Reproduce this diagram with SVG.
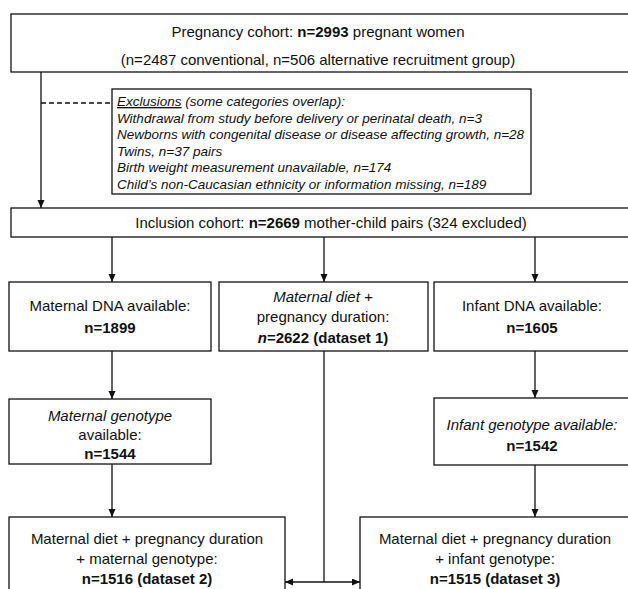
<svg xmlns="http://www.w3.org/2000/svg" width="628" height="589" viewBox="0 0 628 589">
<defs>
<marker id="ah" markerUnits="userSpaceOnUse" markerWidth="8" markerHeight="8" refX="8" refY="3.5" orient="auto-start-reverse"><path d="M0,0 L8,3.5 L0,7 z" fill="#111"/></marker>
<style>
.box{fill:#fff;stroke:#111;stroke-width:1.3}
.t{font-family:"Liberation Sans",Arial,sans-serif;font-size:15px;fill:#111;text-anchor:middle}
.ex{font-family:"Liberation Sans",Arial,sans-serif;font-size:13.5px;font-style:italic;fill:#111}
.b{font-weight:bold}
.i{font-style:italic}
.c{fill:none;stroke:#111;stroke-width:1.3}
</style>
</defs>
<rect width="628" height="589" fill="#fff"/>
<g id="connectors">
<line class="c" x1="41" y1="72" x2="41" y2="208" marker-end="url(#ah)"/>
<line class="c" x1="41" y1="103" x2="112" y2="103" stroke-dasharray="5,3"/>
<line class="c" x1="112" y1="237" x2="112" y2="282" marker-end="url(#ah)"/>
<line class="c" x1="324" y1="237" x2="324" y2="282" marker-end="url(#ah)"/>
<line class="c" x1="535" y1="237" x2="535" y2="282" marker-end="url(#ah)"/>
<line class="c" x1="112" y1="351" x2="112" y2="399" marker-end="url(#ah)"/>
<line class="c" x1="535" y1="351" x2="535" y2="398" marker-end="url(#ah)"/>
<line class="c" x1="112" y1="464" x2="112" y2="517" marker-end="url(#ah)"/>
<line class="c" x1="535" y1="465" x2="535" y2="517" marker-end="url(#ah)"/>
<line class="c" x1="324" y1="351" x2="324" y2="582"/>
<line class="c" x1="285" y1="582" x2="360" y2="582" marker-start="url(#ah)" marker-end="url(#ah)"/>
</g>
<g id="pregnancy-cohort">
<rect class="box" x="11" y="14" width="630" height="58"/>
<text class="t" x="318" y="37">Pregnancy cohort: <tspan class="b">n=2993</tspan> pregnant women</text>
<text class="t" x="318" y="65">(n=2487 conventional, n=506 alternative recruitment group)</text>
</g>
<g id="exclusions">
<rect class="box" x="112" y="89" width="419" height="105"/>
<text class="ex" x="117" y="106"><tspan text-decoration="underline">Exclusions</tspan> (some categories overlap):</text>
<text class="ex" x="117" y="122.5">Withdrawal from study before delivery or perinatal death, n=3</text>
<text class="ex" x="117" y="139">Newborns with congenital disease or disease affecting growth, n=28</text>
<text class="ex" x="117" y="155.5">Twins, n=37 pairs</text>
<text class="ex" x="117" y="172">Birth weight measurement unavailable, n=174</text>
<text class="ex" x="117" y="188.5">Child’s non-Caucasian ethnicity or information missing, n=189</text>
</g>
<g id="inclusion-cohort">
<rect class="box" x="11" y="208" width="630" height="29"/>
<text class="t" x="331" y="228">Inclusion cohort: <tspan class="b">n=2669</tspan> mother-child pairs (324 excluded)</text>
</g>
<g id="maternal-dna">
<rect class="box" x="9" y="282" width="202" height="69"/>
<text class="t" x="110" y="311">Maternal DNA available:</text>
<text class="t b" x="110" y="333">n=1899</text>
</g>
<g id="dataset1">
<rect class="box" x="219" y="282" width="209" height="69"/>
<text class="t i" x="323" y="302">Maternal diet +</text>
<text class="t" x="323" y="322">pregnancy duration:</text>
<text class="t b" x="323" y="343"><tspan class="i">n</tspan>=2622 (dataset 1)</text>
</g>
<g id="infant-dna">
<rect class="box" x="434" y="282" width="210" height="69"/>
<text class="t" x="532" y="311">Infant DNA available:</text>
<text class="t b" x="532" y="333">n=1605</text>
</g>
<g id="maternal-genotype">
<rect class="box" x="9" y="399" width="202" height="65"/>
<text class="t i" x="110" y="421">Maternal genotype</text>
<text class="t" x="110" y="440">available:</text>
<text class="t b" x="110" y="459">n=1544</text>
</g>
<g id="infant-genotype">
<rect class="box" x="434" y="398" width="210" height="67"/>
<text class="t i" x="532" y="430">Infant genotype available:</text>
<text class="t b" x="532" y="451">n=1542</text>
</g>
<g id="dataset2">
<rect class="box" x="9" y="517" width="276" height="90"/>
<text class="t" x="147" y="544">Maternal diet + pregnancy duration</text>
<text class="t" x="147" y="564">+ maternal genotype:</text>
<text class="t b" x="147" y="584">n=1516 (dataset 2)</text>
</g>
<g id="dataset3">
<rect class="box" x="360" y="517" width="284" height="90"/>
<text class="t" x="495" y="544">Maternal diet + pregnancy duration</text>
<text class="t" x="495" y="564">+ infant genotype:</text>
<text class="t b" x="495" y="584">n=1515 (dataset 3)</text>
</g>
</svg>
